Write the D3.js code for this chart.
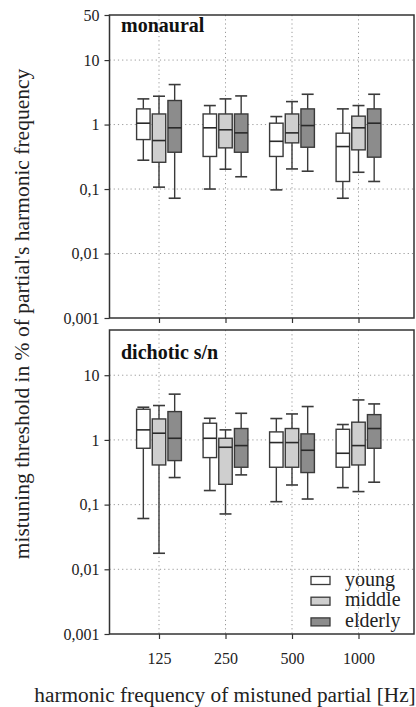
<!DOCTYPE html>
<html>
<head>
<meta charset="utf-8">
<script src="https://cdn.jsdelivr.net/npm/d3@7"></script>
<style>
  html, body { margin: 0; padding: 0; background: #fff; }
  svg { display: block; font-family: "Liberation Serif", "Times New Roman", serif; }
</style>
</head>
<body>
<svg id="chart" width="416" height="707"></svg>
<script>
// ---- data (box stats: [lower whisker, q1, median, q3, upper whisker]) ----
const categories = ["125", "250", "500", "1000"];
const groups = ["young", "middle", "elderly"];
const groupColors = ["#ffffff", "#cfcfcf", "#8c8c8c"];

const monauralYoung   = [[0.28, 0.585, 1.05, 1.75, 2.5], [0.1, 0.32, 0.89, 1.46, 1.97], [0.097, 0.32, 0.55, 1.05, 1.33], [0.072, 0.131, 0.456, 0.734, 1.75]];
const monauralMiddle  = [[0.107, 0.26, 0.565, 1.46, 2.75], [0.203, 0.435, 0.83, 1.46, 2.5], [0.205, 0.52, 0.743, 1.46, 2.27], [0.182, 0.405, 0.89, 1.35, 1.97]];
const monauralElderly = [[0.072, 0.372, 0.89, 2.36, 4.17], [0.155, 0.372, 0.743, 1.46, 2.78], [0.189, 0.445, 0.965, 1.75, 2.95], [0.131, 0.312, 1.05, 1.75, 2.95]];

const dichoticYoung   = [[0.061, 0.743, 1.43, 2.98, 3.2], [0.165, 0.533, 1.06, 1.81, 2.16], [0.111, 0.378, 0.91, 1.33, 2.14], [0.183, 0.378, 0.622, 1.46, 1.73]];
const dichoticMiddle  = [[0.0177, 0.41, 1.27, 2.11, 3.4], [0.0717, 0.206, 0.77, 1.06, 1.43], [0.201, 0.378, 0.91, 1.5, 2.52], [0.159, 0.41, 0.817, 1.88, 4.15]];
const dichoticElderly = [[0.262, 0.479, 1.06, 2.74, 5.1], [0.288, 0.378, 0.817, 1.5, 2.58], [0.122, 0.313, 0.692, 1.24, 3.28], [0.222, 0.743, 1.5, 2.46, 3.6]];

const topTicks = [0.001, 0.01, 0.1, 1, 10, 50];
const bottomTicks = [0.001, 0.01, 0.1, 1, 10];
const gridTicks = [0.01, 0.1, 1, 10];
const panelTitles = ["monaural", "dichotic s/n"];
const yLabel = "mistuning threshold in % of partial's harmonic frequency";
const xLabel = "harmonic frequency of mistuned partial [Hz]";

// ---- layout ----
const svg = d3.select("#chart");
const left = 109.5, right = 414;
const panels = [
  { title: panelTitles[0], top: 15, bottom: 318, ticks: topTicks, series: [monauralYoung, monauralMiddle, monauralElderly] },
  { title: panelTitles[1], top: 330, bottom: 634, ticks: bottomTicks, series: [dichoticYoung, dichoticMiddle, dichoticElderly] }
];

const x = d3.scalePoint().domain(categories).range([159, 358.5]);
const xg = d3.scaleBand().domain(groups).range([-23.5, 23.5]).paddingInner(0.14).paddingOuter(0.07);
const bw = xg.bandwidth();
const capW = bw - 1.5;

const fmt = d => String(d).replace(".", ",");
const stroke = "#3a3a3a";

panels.forEach((p, pi) => {
  const y = d3.scaleLog().domain([0.001, 50]).range([p.bottom, p.top]);
  const g = svg.append("g");

  // grid
  g.selectAll(".hgrid").data(gridTicks).join("line")
    .attr("x1", left).attr("x2", right)
    .attr("y1", d => y(d)).attr("y2", d => y(d))
    .attr("stroke", "#9a9a9a").attr("stroke-width", 1).attr("stroke-dasharray", "1.2,3");
  g.selectAll(".vgrid").data(categories).join("line")
    .attr("x1", d => x(d)).attr("x2", d => x(d))
    .attr("y1", p.top).attr("y2", p.bottom)
    .attr("stroke", "#9a9a9a").attr("stroke-width", 1).attr("stroke-dasharray", "1.2,3");

  // y axis
  const yAxis = d3.axisLeft(y).tickValues(p.ticks).tickFormat(fmt).tickSize(5).tickPadding(5);
  const ya = g.append("g").attr("transform", `translate(${left},0)`).call(yAxis);
  ya.select(".domain").remove();
  ya.selectAll(".tick line").attr("stroke", "#333").attr("stroke-width", 1.2);
  ya.selectAll(".tick text").attr("font-family", "Liberation Serif").attr("font-size", 16).attr("fill", "#222");

  // x axis ticks
  const xAxis = d3.axisBottom(x).tickSize(5).tickFormat(pi === 1 ? (d => d) : () => "").tickPadding(14);
  const xa = g.append("g").attr("transform", `translate(0,${p.bottom})`).call(xAxis);
  xa.select(".domain").remove();
  xa.selectAll(".tick line").attr("stroke", "#333").attr("stroke-width", 1.2);
  xa.selectAll(".tick text").attr("font-family", "Liberation Serif").attr("font-size", 16).attr("fill", "#222");

  // boxes
  p.series.forEach((ser, si) => {
    const gname = groups[si];
    const bx = g.append("g");
    ser.forEach((s, ci) => {
      const cx = x(categories[ci]) + xg(gname) + bw / 2;
      const [lo, q1, med, q3, hi] = s;
      // whiskers
      bx.append("line").attr("x1", cx).attr("x2", cx).attr("y1", y(q3)).attr("y2", y(hi))
        .attr("stroke", stroke).attr("stroke-width", 1.4);
      bx.append("line").attr("x1", cx).attr("x2", cx).attr("y1", y(q1)).attr("y2", y(lo))
        .attr("stroke", stroke).attr("stroke-width", 1.4);
      bx.append("line").attr("x1", cx - capW / 2).attr("x2", cx + capW / 2).attr("y1", y(hi)).attr("y2", y(hi))
        .attr("stroke", stroke).attr("stroke-width", 1.6);
      bx.append("line").attr("x1", cx - capW / 2).attr("x2", cx + capW / 2).attr("y1", y(lo)).attr("y2", y(lo))
        .attr("stroke", stroke).attr("stroke-width", 1.6);
      // box
      bx.append("rect").attr("x", cx - bw / 2).attr("width", bw)
        .attr("y", y(q3)).attr("height", y(q1) - y(q3))
        .attr("fill", groupColors[si]).attr("stroke", stroke).attr("stroke-width", 1.4);
      // median
      bx.append("line").attr("x1", cx - bw / 2).attr("x2", cx + bw / 2).attr("y1", y(med)).attr("y2", y(med))
        .attr("stroke", "#2a2a2a").attr("stroke-width", 1.6);
    });
  });

  // frame
  g.append("rect").attr("x", left).attr("y", p.top).attr("width", right - left).attr("height", p.bottom - p.top)
    .attr("fill", "none").attr("stroke", "#333").attr("stroke-width", 1.5);

  // title
  g.append("text").attr("x", 121).attr("y", p.top + (pi === 0 ? 17 : 29))
    .attr("font-family", "Liberation Serif").attr("font-weight", "bold").attr("font-size", 20).attr("fill", "#111")
    .text(p.title);

  // legend in the bottom panel
  if (pi === 1) {
    const lg = g.append("g");
    groups.forEach((gn, i) => {
      const ly = 580.5 + i * 20.7;
      lg.append("rect").attr("x", 311).attr("y", ly - 4).attr("width", 19).attr("height", 8)
        .attr("fill", groupColors[i]).attr("stroke", stroke).attr("stroke-width", 1.3);
      lg.append("text").attr("x", 345).attr("y", ly + 5)
        .attr("font-family", "Liberation Serif").attr("font-size", 20).attr("fill", "#222").text(gn);
    });
  }
});

// axis labels
svg.append("text").attr("transform", "translate(29,314) rotate(-90)").attr("text-anchor", "middle")
  .attr("font-family", "Liberation Serif").attr("font-size", 21.5).attr("fill", "#222").text(yLabel);
svg.append("text").attr("x", 225).attr("y", 702).attr("text-anchor", "middle")
  .attr("font-family", "Liberation Serif").attr("font-size", 21.3).attr("fill", "#222").text(xLabel);
</script>
</body>
</html>
